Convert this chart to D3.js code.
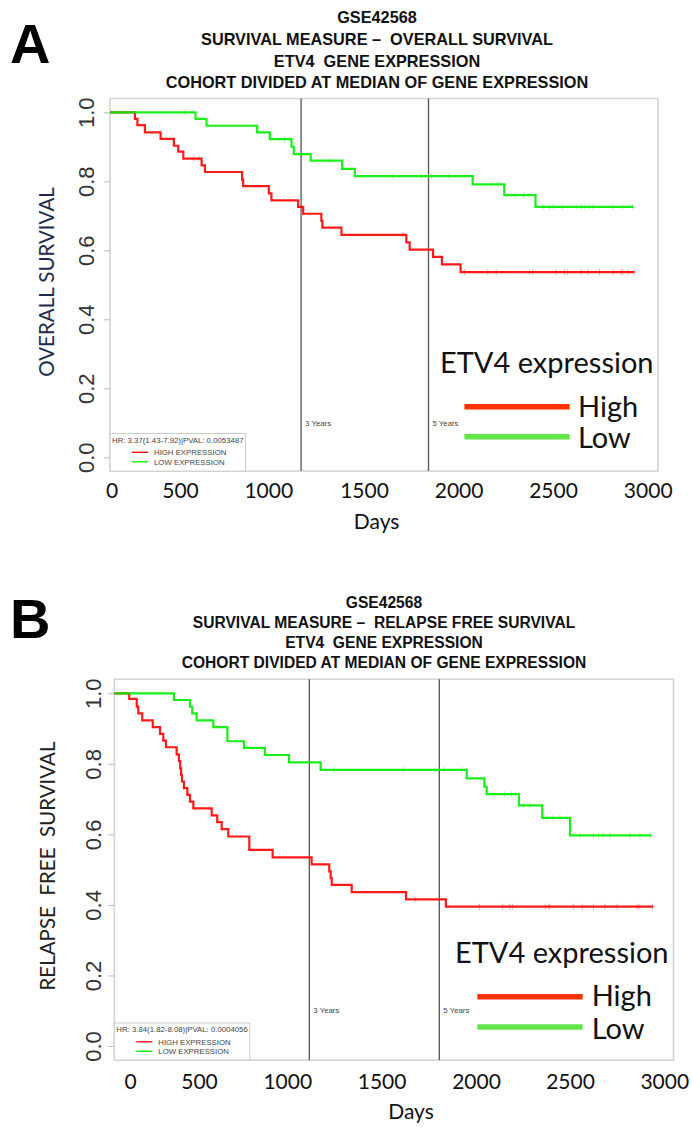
<!DOCTYPE html>
<html>
<head>
<meta charset="UTF-8">
<style>
  body { margin: 0; background: #fff; }
  svg { display: block; background: #fff; }
  .title { font-family: "Liberation Sans", Arial, sans-serif; font-weight: bold; fill: #111; white-space: pre; }
  .letter { font-family: "Liberation Sans", Arial, sans-serif; font-weight: bold; fill: #000; }
  .overlay { font-family: Lato, "Open Sans", sans-serif; fill: #111; white-space: pre; }
  .small { font-family: "Liberation Sans", Arial, sans-serif; fill: #444; }
  .ytick text { font-family: "Liberation Sans", Arial, sans-serif; fill: #333; }
</style>
</head>
<body>
<svg id="chart"></svg>
<script src="https://d3js.org/d3.v7.min.js"></script>
<script>
const width = 692, height = 1128;

// ---- data ----
const titleLinesA = ["GSE42568", "SURVIVAL MEASURE –  OVERALL SURVIVAL", "ETV4  GENE EXPRESSION", "COHORT DIVIDED AT MEDIAN OF GENE EXPRESSION"];
const titleLinesB = ["GSE42568", "SURVIVAL MEASURE –  RELAPSE FREE SURVIVAL", "ETV4  GENE EXPRESSION", "COHORT DIVIDED AT MEDIAN OF GENE EXPRESSION"];
const yTitles = ["OVERALL SURVIVAL", "RELAPSE  FREE  SURVIVAL"];
const yTicks = [0, 0.2, 0.4, 0.6, 0.8, 1.0];
const dayTicks = [0, 500, 1000, 1500, 2000, 2500, 3000];
const yearDays = [1095, 1825];
const yearLabels = ["3 Years", "5 Years"];
const groupNames = ["High", "Low"];
const legendTitle = "ETV4 expression";
const rLegendLabels = ["HIGH EXPRESSION", "LOW EXPRESSION"];
const hrTexts = ["HR: 3.37(1.43-7.92)|PVAL: 0.0053487", "HR: 3.84(1.82-8.08)|PVAL: 0.0004056"];

// overall survival, high expression
const osHighDays = [143, 157, 200, 290, 366, 391, 420, 525, 544, 757, 763, 910, 925, 1078, 1107, 1211, 1217, 1326, 1698, 1717, 1851, 1902, 2009];
const osHighSurv = [0.981, 0.963, 0.942, 0.923, 0.903, 0.886, 0.866, 0.846, 0.827, 0.805, 0.786, 0.765, 0.745, 0.726, 0.706, 0.685, 0.666, 0.645, 0.623, 0.602, 0.581, 0.559, 0.537];
const osHighEnd = 3005;
const osHighCensor = [480, 510, 1679, 2032, 2165, 2213, 2404, 2423, 2557, 2604, 2623, 2700, 2738, 2805, 2881, 2929, 2938, 2967, 3005];
// overall survival, low expression
const osLowDays = [490, 553, 843, 916, 1040, 1053, 1150, 1330, 1403, 2078, 2259, 2438];
const osLowSurv = [0.981, 0.961, 0.942, 0.922, 0.900, 0.879, 0.860, 0.836, 0.815, 0.791, 0.760, 0.726];
const osLowEnd = 3000;
const osLowCensor = [430, 1000, 1260, 1622, 1784, 1841, 1941, 2185, 2221, 2322, 2370, 2480, 2519, 2541, 2591, 2671, 2700, 2723, 2744, 2767, 2881, 2935, 2996];
// relapse free survival, high expression
const rfsHighDays = [84, 126, 135, 157, 216, 257, 275, 290, 350, 363, 370, 375, 380, 391, 410, 425, 444, 547, 578, 603, 640, 758, 889, 1108, 1207, 1215, 1221, 1333, 1638, 1862];
const rfsHighSurv = [0.984, 0.962, 0.943, 0.923, 0.904, 0.885, 0.866, 0.847, 0.827, 0.808, 0.787, 0.769, 0.750, 0.731, 0.712, 0.693, 0.674, 0.654, 0.635, 0.615, 0.594, 0.556, 0.535, 0.515, 0.495, 0.476, 0.457, 0.436, 0.416, 0.395];
const rfsHighEnd = 3027;
const rfsHighCensor = [1689, 2050, 2181, 2220, 2235, 2420, 2440, 2446, 2577, 2628, 2690, 2755, 2824, 2935, 2946, 3023];
// relapse free survival, low expression
const rfsLowDays = [335, 425, 438, 462, 556, 635, 728, 846, 981, 1159, 1979, 2078, 2091, 2272, 2403, 2559];
const rfsLowSurv = [0.981, 0.962, 0.943, 0.923, 0.904, 0.864, 0.845, 0.825, 0.804, 0.783, 0.759, 0.735, 0.714, 0.682, 0.647, 0.597];
const rfsLowEnd = 3017;
const rfsLowCensor = [1234, 1623, 1801, 1853, 1950, 2128, 2194, 2231, 2297, 2334, 2428, 2465, 2503, 2615, 2690, 2720, 2745, 2783, 2896, 2952, 3012];

const curveColors = ["#ff0000", "#00ee00"];
const keyColors = ["#ff3300", "#62e64a"];
const maxDay = 3140;

// ---- layout of the two panels ----
const panels = [
  { letter: "A", letterBase: 63, titles: titleLinesA, titleX: 377, titleBase: [22.5, 45, 66.5, 87.5], titleSize: 16.3,
    xRange: [110, 658], yRange: [457.3, 112.3], tickOffset: 23.7, yTitle: yTitles[0], yTitlePos: [46.7, 282], yTitleColor: "#1d2c4c",
    hr: hrTexts[0], legendTop: 433.5,
    curves: [[osHighDays, osHighSurv, osHighEnd, osHighCensor], [osLowDays, osLowSurv, osLowEnd, osLowCensor]],
    labelPos: [111.7, 180, 268.3, 364, 458.6, 553, 647.7], labelBase: 497.5, daysPos: [376.6, 528.5],
    keyTitle: [440, 373], keyLine: [464.4, 569.7], keyLineY: [406.7, 436.7], keyTextX: 578, keyTextBase: [416.7, 448.3] },
  { letter: "B", letterBase: 638, titles: titleLinesB, titleX: 384, titleBase: [608, 628, 647.5, 667.5], titleSize: 15.6,
    xRange: [114.3, 673.5], yRange: [1046, 693.3], tickOffset: 21, yTitle: yTitles[1], yTitlePos: [48, 866], yTitleColor: "#222",
    hr: hrTexts[1], legendTop: 1023,
    curves: [[rfsHighDays, rfsHighSurv, rfsHighEnd, rfsHighCensor], [rfsLowDays, rfsLowSurv, rfsLowEnd, rfsLowCensor]],
    labelPos: [130, 199, 287.3, 381.6, 476, 570, 664.3], labelBase: 1089, daysPos: [411, 1119],
    keyTitle: [455, 963.3], keyLine: [477.3, 582.7], keyLineY: [996.7, 1027], keyTextX: 591.7, keyTextBase: [1006, 1039.3] }
];

const svg = d3.select("#chart").attr("width", width).attr("height", height)
  .attr("viewBox", "0 0 " + width + " " + height);

function drawPanel(p) {
  const x = d3.scaleLinear().domain([0, maxDay]).range(p.xRange);
  const y = d3.scaleLinear().domain([0, 1]).range(p.yRange);
  const g = svg.append("g");
  const top = y(1.04), bottom = y(-0.04);

  // panel letter and title block
  g.append("text").attr("class", "letter").attr("x", 10).attr("y", p.letterBase)
    .style("font-size", "56px").text(p.letter);
  g.selectAll(".title").data(p.titles).enter().append("text")
    .attr("class", "title").attr("x", p.titleX).attr("y", (d, i) => p.titleBase[i])
    .attr("text-anchor", "middle").style("font-size", p.titleSize + "px").text(d => d);

  // plot frame
  g.append("rect").attr("x", x(0)).attr("y", top)
    .attr("width", x(maxDay) - x(0)).attr("height", bottom - top)
    .attr("fill", "none").attr("stroke", "#d2d2d2").attr("stroke-width", 1.5);

  // y axis with rotated labels
  const yAxis = g.append("g").attr("class", "ytick")
    .attr("transform", "translate(" + x(0) + ",0)")
    .call(d3.axisLeft(y).tickValues(yTicks).tickSize(6).tickFormat(d3.format(".1f")));
  yAxis.select(".domain").remove();
  yAxis.selectAll("line").attr("stroke", "#bbb");
  yAxis.selectAll("text")
    .attr("x", null).attr("dy", "0.36em")
    .attr("transform", "translate(" + (-p.tickOffset) + ",0) rotate(-90)")
    .attr("text-anchor", "middle").style("font-size", "22px");

  g.append("text").attr("class", "overlay")
    .attr("transform", "translate(" + p.yTitlePos[0] + "," + p.yTitlePos[1] + ") rotate(-90)")
    .attr("text-anchor", "middle").attr("dy", "0.36em")
    .style("font-size", "20.5px").style("fill", p.yTitleColor).text(p.yTitle);

  // 3 and 5 year reference lines
  g.selectAll(".year").data(yearDays).enter().append("line")
    .attr("x1", d => x(d)).attr("x2", d => x(d))
    .attr("y1", top).attr("y2", bottom)
    .attr("stroke", "#555").attr("stroke-width", 1.3);
  g.selectAll(".yearText").data(yearLabels).enter().append("text")
    .attr("class", "small").attr("x", (d, i) => x(yearDays[i]) + 4).attr("y", y(0.1))
    .attr("dy", "0.35em").style("font-size", "7.8px").text(d => d);

  // Kaplan-Meier step curves
  const line = d3.line().x(d => x(d[0])).y(d => y(d[1])).curve(d3.curveStepAfter);
  p.curves.forEach((c, k) => {
    const [days, surv, end, censor] = c;
    const pts = [[0, 1]].concat(days.map((d, i) => [d, surv[i]]));
    pts.push([end, surv[surv.length - 1]]);
    g.append("path").datum(pts).attr("d", line)
      .attr("fill", "none").attr("stroke", curveColors[k]).attr("stroke-width", 2.2)
      .attr("stroke-opacity", 0.9);
    const survAt = t => {
      let s = 1;
      days.forEach((d, i) => { if (d <= t) s = surv[i]; });
      return s;
    };
    g.selectAll(".cens" + k).data(censor).enter().append("line")
      .attr("x1", d => x(d)).attr("x2", d => x(d))
      .attr("y1", d => y(survAt(d)) - 3).attr("y2", d => y(survAt(d)) + 3)
      .attr("stroke", curveColors[k]).attr("stroke-opacity", 0.35).attr("stroke-width", 1);
  });

  // small R legend box
  const lg = g.append("g");
  const box = lg.append("rect").attr("x", x(0)).attr("y", p.legendTop)
    .attr("height", bottom - p.legendTop).attr("fill", "#fff")
    .attr("stroke", "#ccc").attr("stroke-width", 1);
  const hr = lg.append("text").attr("class", "small").attr("x", x(0) + 2).attr("y", p.legendTop + 6.5)
    .attr("dy", "0.35em").style("font-size", "7.8px").text(p.hr);
  box.attr("width", hr.node().getComputedTextLength() + 4);
  rLegendLabels.forEach((lab, i) => {
    const ly = p.legendTop + 18.8 + i * 9.5;
    lg.append("line").attr("x1", x(0) + 22).attr("x2", x(0) + 38).attr("y1", ly).attr("y2", ly)
      .attr("stroke", curveColors[i]).attr("stroke-width", 1.3);
    lg.append("text").attr("class", "small").attr("x", x(0) + 44).attr("y", ly)
      .attr("dy", "0.35em").style("font-size", "7.8px").text(lab);
  });

  // day labels pasted under the plot
  const overlayX = d3.scaleLinear().domain(dayTicks).range(p.labelPos);
  const xAxis = g.append("g").attr("transform", "translate(0," + p.labelBase + ")")
    .call(d3.axisBottom(overlayX).tickValues(dayTicks).tickSize(0).tickFormat(d3.format("d")));
  xAxis.select(".domain").remove();
  xAxis.selectAll("text").attr("class", "overlay").attr("y", 0).attr("dy", 0)
    .style("font-size", "21px").style("font-family", "Lato, 'Open Sans', sans-serif").attr("fill", "#111");
  g.append("text").attr("class", "overlay").attr("x", p.daysPos[0]).attr("y", p.daysPos[1])
    .attr("text-anchor", "middle").style("font-size", "21px").text("Days");

  // ETV4 expression key
  g.append("text").attr("class", "overlay").attr("x", p.keyTitle[0]).attr("y", p.keyTitle[1])
    .style("font-size", "29px").text(legendTitle);
  groupNames.forEach((name, i) => {
    g.append("line").attr("x1", p.keyLine[0]).attr("x2", p.keyLine[1])
      .attr("y1", p.keyLineY[i]).attr("y2", p.keyLineY[i])
      .attr("stroke", keyColors[i]).attr("stroke-width", 5.5);
    g.append("text").attr("class", "overlay").attr("x", p.keyTextX).attr("y", p.keyTextBase[i])
      .style("font-size", "29px").text(name);
  });
}

panels.forEach(drawPanel);
</script>
</body>
</html>
